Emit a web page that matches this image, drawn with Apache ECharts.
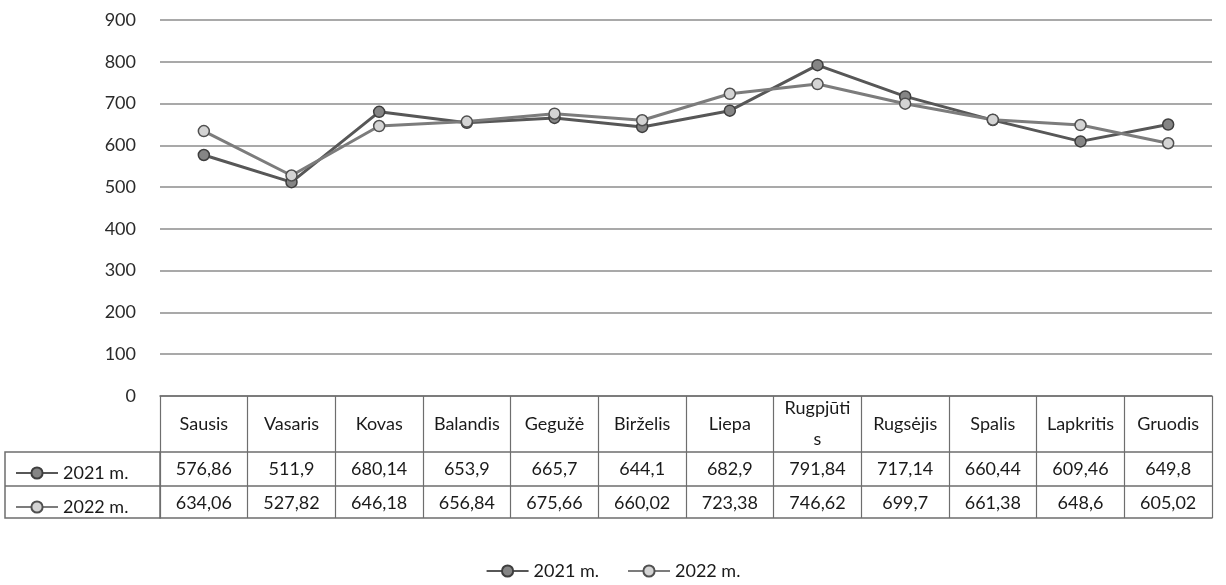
<!DOCTYPE html>
<html>
<head>
<meta charset="utf-8">
<script src="https://cdn.jsdelivr.net/npm/echarts@6/dist/echarts.min.js"></script>
<style>
  html, body { margin: 0; padding: 0; background: #fff; }
  #chart { width: 1226px; height: 585px; }
</style>
</head>
<body>
<div id="chart"></div>
<script>
const months = ['Sausis', 'Vasaris', 'Kovas', 'Balandis', 'Gegužė', 'Birželis', 'Liepa', 'Rugpjūtis', 'Rugsėjis', 'Spalis', 'Lapkritis', 'Gruodis']
const values2021 = [576.86, 511.9, 680.14, 653.9, 665.7, 644.1, 682.9, 791.84, 717.14, 660.44, 609.46, 649.8]
const values2022 = [634.06, 527.82, 646.18, 656.84, 675.66, 660.02, 723.38, 746.62, 699.7, 661.38, 648.6, 605.02]
const seriesNames = ['2021 m.', '2022 m.']

const chart = echarts.init(document.getElementById('chart'))

const fontFamily = 'Lato, "Noto Sans", sans-serif'
const borderColor = '#6e6e6e'
const textColor = '#1a1a1a'
const fmt = v => String(v).replace('.', ',')

// table rows under the plot, one extra category axis each
function tableRow(offset, values, tickLen) {
  return {
    type: 'category',
    data: months,
    position: 'bottom',
    offset: offset,
    axisLine: { show: true, lineStyle: { color: borderColor, width: 1.5 } },
    axisTick: { show: tickLen > 0, interval: 0, length: tickLen, lineStyle: { color: borderColor, width: 1.2 } },
    axisLabel: {
      show: !!values,
      interval: 0,
      verticalAlign: 'middle',
      margin: 17,
      color: textColor,
      fontSize: 18,
      fontFamily: fontFamily,
      formatter: (v, i) => values ? fmt(values[i]) : ''
    },
    splitLine: { show: false }
  }
}

const legendText = { color: textColor, fontSize: 18, fontFamily: fontFamily }

const option = {
  backgroundColor: '#fff',
  animation: false,
  grid: { left: 160, right: 14, top: 20, bottom: 189 },
  legend: [
    {
      data: [seriesNames[0]], left: 10, top: 459, selectedMode: false,
      itemWidth: 42, itemHeight: 14, textStyle: legendText
    },
    {
      data: [seriesNames[1]], left: 10, top: 493, selectedMode: false,
      itemWidth: 42, itemHeight: 14, textStyle: legendText
    },
    {
      data: seriesNames, left: 'center', bottom: 0, selectedMode: false,
      itemWidth: 42, itemHeight: 14, itemGap: 28, textStyle: legendText
    }
  ],
  xAxis: [
    {
      type: 'category',
      data: months,
      position: 'bottom',
      axisLine: { show: true, lineStyle: { color: borderColor, width: 1.5 } },
      axisTick: { show: true, interval: 0, length: 56, lineStyle: { color: borderColor, width: 1.2 } },
      axisLabel: {
        interval: 0,
        verticalAlign: 'middle',
        margin: 28,
        lineHeight: 31,
        color: textColor,
        fontSize: 18,
        fontFamily: fontFamily,
        formatter: v => v === 'Rugpjūtis' ? 'Rugpjūti\ns' : v
      }
    },
    tableRow(56, values2021, 34),
    tableRow(90, values2022, 32),
    tableRow(122, null, 0)
  ],
  yAxis: {
    type: 'value',
    min: 0,
    max: 900,
    interval: 100,
    axisLine: { show: false },
    axisTick: { show: false },
    axisLabel: { color: '#2a2a2a', fontSize: 18, fontFamily: fontFamily, margin: 24 },
    splitLine: { lineStyle: { color: '#8c8c8c', width: 1.5 } }
  },
  graphic: [
    {
      type: 'rect',
      shape: { x: 5, y: 452, width: 155, height: 66 },
      style: { fill: 'none', stroke: borderColor, lineWidth: 1.5 }
    },
    {
      type: 'line',
      shape: { x1: 5, y1: 486, x2: 160, y2: 486 },
      style: { stroke: borderColor, lineWidth: 1.5 }
    }
  ],
  series: [
    {
      name: seriesNames[0],
      type: 'line',
      data: values2021,
      symbol: 'circle',
      symbolSize: 11,
      lineStyle: { color: '#575757', width: 3 },
      itemStyle: { color: '#858585', borderColor: '#3e3e3e', borderWidth: 1.5 }
    },
    {
      name: seriesNames[1],
      type: 'line',
      data: values2022,
      symbol: 'circle',
      symbolSize: 11,
      lineStyle: { color: '#7c7c7c', width: 3 },
      itemStyle: { color: '#d4d4d4', borderColor: '#505050', borderWidth: 1.5 }
    }
  ]
}

chart.setOption(option)
</script>
</body>
</html>
